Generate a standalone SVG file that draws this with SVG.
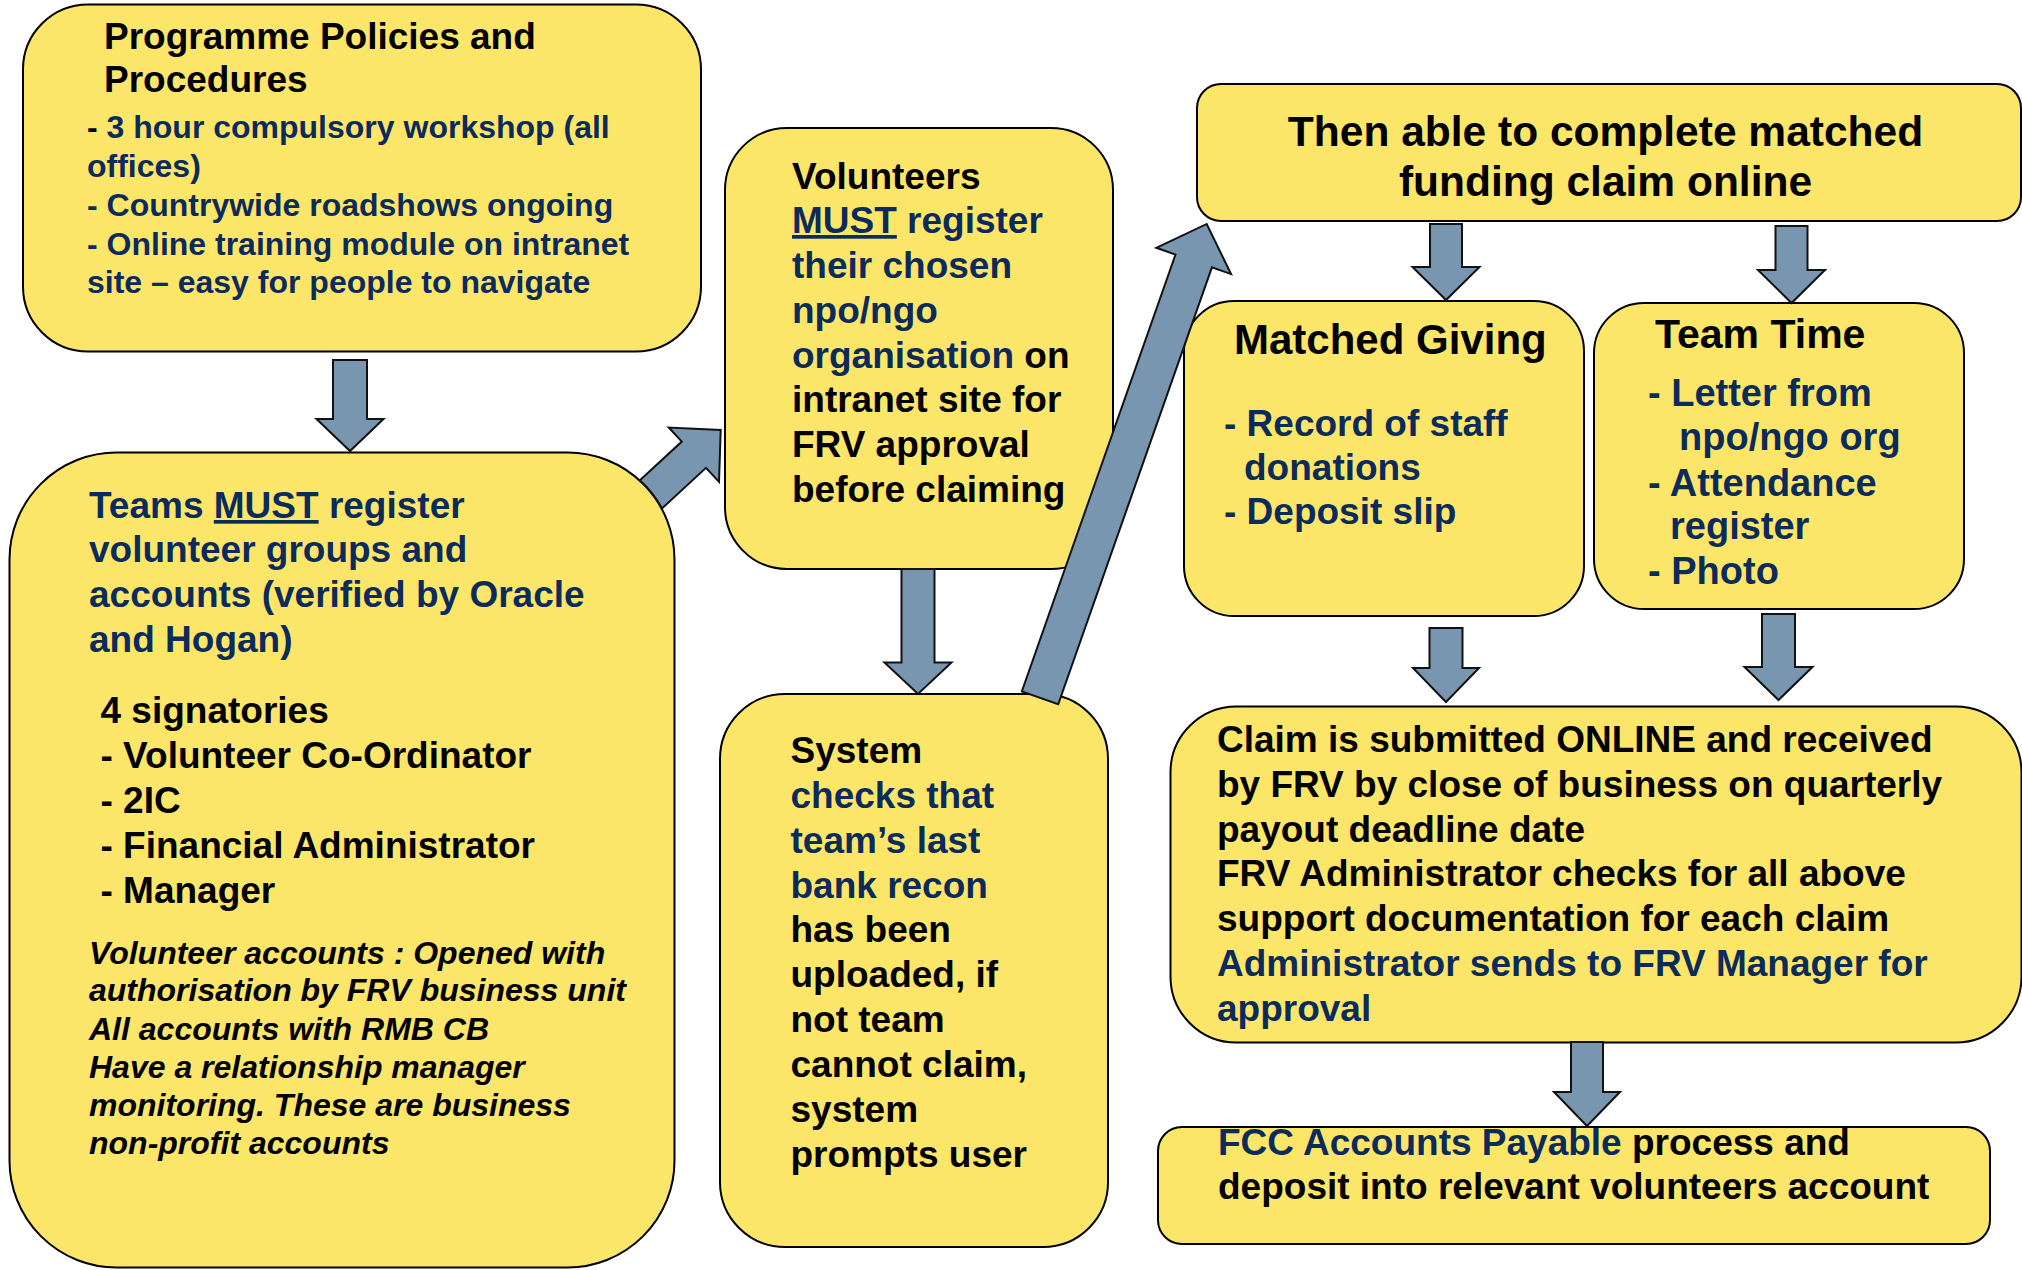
<svg xmlns="http://www.w3.org/2000/svg" width="2022" height="1270" viewBox="0 0 2022 1270">
<style>
.box{fill:#FCE66A;stroke:#000;stroke-width:2}
.arr{fill:#7896AF;stroke:#111;stroke-width:2;stroke-linejoin:miter}
text{font-family:"Liberation Sans",Arial,sans-serif;font-weight:bold;fill:#000}
.f37{font-size:37px}
.f32{font-size:32px}
.b{fill:#0B2B5B}
.k{fill:#000}
.it{font-style:italic}
</style>
<rect width="2022" height="1270" fill="#fff"/>
<g id="node-policies">
<rect class="box" x="23" y="4.5" width="678" height="347" rx="65"/>
<text class="f37" x="104" y="49">Programme Policies and</text>
<text class="f37" x="104" y="92">Procedures</text>
<g class="f32">
<text x="87" y="138"><tspan class="k">- </tspan><tspan class="b">3 hour compulsory workshop (all</tspan></text>
<text class="b" x="87" y="177">offices)</text>
<text class="b" x="87" y="216">- Countrywide roadshows ongoing</text>
<text class="b" x="87" y="255">- Online training module on intranet</text>
<text class="b" x="87" y="293">site – easy for people to navigate</text>
</g>
</g>
<g id="node-teams">
<rect class="box" x="9.5" y="452.5" width="665" height="815" rx="107"/>
<g class="f37">
<text class="b" x="89" y="518">Teams <tspan text-decoration="underline">MUST</tspan> register</text>
<text class="b" x="89" y="562">volunteer groups and</text>
<text class="b" x="89" y="607">accounts (verified by Oracle</text>
<text class="b" x="89" y="652">and Hogan)</text>
<text x="100.5" y="723">4 signatories</text>
<text x="100.5" y="768">- Volunteer Co-Ordinator</text>
<text x="100.5" y="813">- 2IC</text>
<text x="100.5" y="858">- Financial Administrator</text>
<text x="100.5" y="903">- Manager</text>
</g>
<g class="f32 it">
<text class="it" x="89" y="964">Volunteer accounts : Opened with</text>
<text class="it" x="89" y="1001">authorisation by FRV business unit</text>
<text class="it" x="89" y="1039.5">All accounts with RMB CB</text>
<text class="it" x="89" y="1078">Have a relationship manager</text>
<text class="it" x="89" y="1116">monitoring. These are business</text>
<text class="it" x="89" y="1154">non-profit accounts</text>
</g>
</g>
<g id="node-volunteers">
<rect class="box" x="725" y="128" width="388" height="441" rx="62"/>
<g class="f37">
<text x="792" y="189">Volunteers</text>
<text class="b" x="792" y="233"><tspan text-decoration="underline">MUST</tspan> register</text>
<text class="b" x="792" y="278">their chosen</text>
<text class="b" x="792" y="323">npo/ngo</text>
<text x="792" y="368"><tspan class="b">organisation</tspan> on</text>
<text x="792" y="412">intranet site for</text>
<text x="792" y="457">FRV approval</text>
<text x="792" y="502">before claiming</text>
</g>
</g>
<g id="node-system">
<rect class="box" x="720" y="694" width="388" height="553" rx="65"/>
<g class="f37">
<text x="790.5" y="763">System</text>
<text class="b" x="790.5" y="808">checks that</text>
<text class="b" x="790.5" y="853">team’s last</text>
<text class="b" x="790.5" y="898">bank recon</text>
<text x="790.5" y="942">has been</text>
<text x="790.5" y="987">uploaded, if</text>
<text x="790.5" y="1032">not team</text>
<text x="790.5" y="1077">cannot claim,</text>
<text x="790.5" y="1122">system</text>
<text x="790.5" y="1167">prompts user</text>
</g>
</g>
<g id="node-complete">
<rect class="box" x="1197" y="84" width="824" height="137" rx="24"/>
<text x="1605.5" y="146" font-size="42.5" text-anchor="middle">Then able to complete matched</text>
<text x="1605.5" y="196" font-size="42.5" text-anchor="middle">funding claim online</text>
</g>
<g id="node-matched">
<rect class="box" x="1184" y="301" width="400" height="315" rx="50"/>
<text x="1234" y="354" font-size="42">Matched Giving</text>
<g class="f37">
<text class="b" x="1224" y="436">- Record of staff</text>
<text class="b" x="1244" y="480">donations</text>
<text class="b" x="1224" y="524">- Deposit slip</text>
</g>
</g>
<g id="node-teamtime">
<rect class="box" x="1594" y="303" width="370" height="306" rx="50"/>
<text x="1655" y="348" font-size="41">Team Time</text>
<g font-size="38">
<text class="b" x="1648" y="406">- Letter from</text>
<text class="b" x="1679" y="450">npo/ngo org</text>
<text class="b" x="1648" y="496">- Attendance</text>
<text class="b" x="1670" y="539">register</text>
<text class="b" x="1648" y="584">- Photo</text>
</g>
</g>
<g id="node-claim">
<rect class="box" x="1170.5" y="706.5" width="851" height="336" rx="66"/>
<g class="f37">
<text x="1217" y="752">Claim is submitted ONLINE and received</text>
<text x="1217" y="797">by FRV by close of business on quarterly</text>
<text x="1217" y="842">payout deadline date</text>
<text x="1217" y="886">FRV Administrator checks for all above</text>
<text x="1217" y="931">support documentation for each claim</text>
<text class="b" x="1217" y="976">Administrator sends to FRV Manager for</text>
<text class="b" x="1217" y="1021">approval</text>
</g>
</g>
<g id="node-fcc">
<rect class="box" x="1158" y="1127" width="832" height="117" rx="24"/>
<g class="f37">
<text x="1218" y="1155"><tspan class="b">FCC Accounts Payable</tspan> process and</text>
<text x="1218" y="1199">deposit into relevant volunteers account</text>
</g>
</g>
<g id="connectors">
<path class="arr" d="M333 360 L367 360 L367 419 L383.5 419 L350 451 L316.5 419 L333 419 Z"/>
<path class="arr" d="M720.7 430 L719 481.9 L706 467.8 L662 508.4 A107 107 0 0 0 639.9 480.2 L681.8 441.6 L668.8 427.5 Z"/>
<path class="arr" d="M901.5 569 L934.5 569 L934.5 662.5 L951.5 662.5 L918 694 L884.5 662.5 L901.5 662.5 Z"/>
<path class="arr" transform="translate(1040,697.9) rotate(-70.62)" d="M0 -19.3 L463.2 -19.3 L463.2 -39.6 L502.4 0 L463.2 39.6 L463.2 19.3 L0 19.3 Z"/>
<path class="arr" d="M1430 224 L1462 224 L1462 267 L1479.5 267 L1446 300 L1412.5 267 L1430 267 Z"/>
<path class="arr" d="M1775.5 226 L1807.5 226 L1807.5 270 L1825 270 L1791.5 303 L1758 270 L1775.5 270 Z"/>
<path class="arr" d="M1429.5 628 L1462.5 628 L1462.5 668 L1479 668 L1446 702 L1413 668 L1429.5 668 Z"/>
<path class="arr" d="M1762 614 L1795 614 L1795 667 L1812.5 667 L1778.5 700 L1744.5 667 L1762 667 Z"/>
<path class="arr" d="M1571 1042 L1603 1042 L1603 1092 L1620 1092 L1587 1126 L1554 1092 L1571 1092 Z"/>
</g>
</svg>
